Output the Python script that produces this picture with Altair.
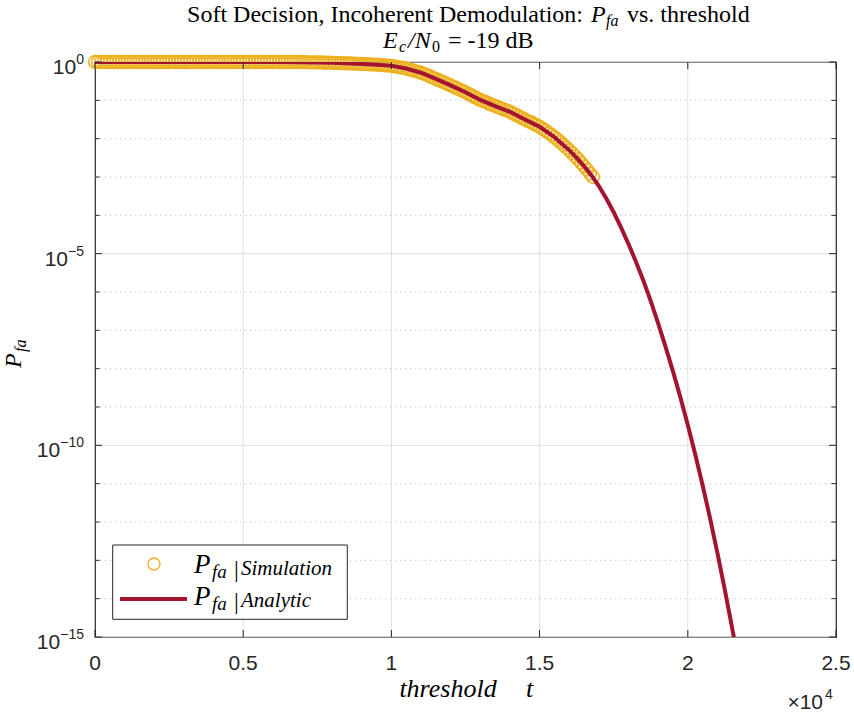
import altair as alt
import pandas as pd

# ---------------- data ----------------
# Analytic curve: threshold t and log10(Pfa)
ana_t = [0, 1000, 2000, 3000, 4000, 5000, 6000, 7000, 8000, 9000, 9500, 10000,
         10500, 11000, 11500, 12000, 12500, 13000, 13500, 14000, 14500, 15000,
         15500, 16000, 16250, 16500, 16750, 17000, 17250, 17500, 17750, 18000,
         18250, 18500, 18750, 19000, 19250, 19500, 19750, 20000, 20250, 20500,
         20750, 21000, 21250, 21500, 21550, 21600]
ana_log10 = [0, 0, 0, 0, 0, 0, 0, -0.005, -0.02, -0.05, -0.07, -0.10,
             -0.17, -0.28, -0.44, -0.61, -0.79, -0.99, -1.15, -1.30, -1.50, -1.69,
             -1.96, -2.30, -2.50, -2.72, -2.96, -3.24, -3.56, -3.92, -4.32, -4.75,
             -5.21, -5.70, -6.24, -6.82, -7.43, -8.07, -8.75, -9.47, -10.23, -11.04,
             -11.90, -12.81, -13.77, -14.78, -14.99, -15.20]

# Simulation points: threshold t and log10(Pfa)
sim_t = [0, 100, 200, 300, 400, 500, 600, 700, 800, 900,
         1000, 1100, 1200, 1300, 1400, 1500, 1600, 1700, 1800, 1900,
         2000, 2100, 2200, 2300, 2400, 2500, 2600, 2700, 2800, 2900,
         3000, 3100, 3200, 3300, 3400, 3500, 3600, 3700, 3800, 3900,
         4000, 4100, 4200, 4300, 4400, 4500, 4600, 4700, 4800, 4900,
         5000, 5100, 5200, 5300, 5400, 5500, 5600, 5700, 5800, 5900,
         6000, 6100, 6200, 6300, 6400, 6500, 6600, 6700, 6800, 6900,
         7000, 7100, 7200, 7300, 7400, 7500, 7600, 7700, 7800, 7900,
         8000, 8100, 8200, 8300, 8400, 8500, 8600, 8700, 8800, 8900,
         9000, 9100, 9200, 9300, 9400, 9500, 9600, 9700, 9800, 9900,
         10000, 10100, 10200, 10300, 10400, 10500, 10600, 10700, 10800, 10900,
         11000, 11100, 11200, 11300, 11400, 11500, 11600, 11700, 11800, 11900,
         12000, 12100, 12200, 12300, 12400, 12500, 12600, 12700, 12800, 12900,
         13000, 13100, 13200, 13300, 13400, 13500, 13600, 13700, 13800, 13900,
         14000, 14100, 14200, 14300, 14400, 14500, 14600, 14700, 14800, 14900,
         15000, 15100, 15200, 15300, 15400, 15500, 15600, 15700, 15800, 15900,
         16000, 16100, 16200, 16300, 16400, 16500, 16600, 16700, 16800]
sim_log10 = [0, 0, 0, 0, 0, 0, 0, 0, 0, 0,
             0, 0, 0, 0, 0, 0, 0, 0, 0, 0,
             0, 0, 0, 0, 0, 0, 0, 0, 0, 0,
             0, 0, 0, 0, 0, 0, 0, 0, 0, 0,
             0, 0, 0, 0, 0, 0, 0, 0, 0, 0,
             0, 0, 0, 0, 0, 0, 0, 0, 0, 0,
             0, 0, 0, 0, 0, 0, 0, 0, 0, 0,
             -0.005, -0.006, -0.007, -0.008, -0.009, -0.010, -0.012, -0.014, -0.016, -0.018,
             -0.020, -0.023, -0.026, -0.029, -0.032, -0.035, -0.038, -0.041, -0.044, -0.047,
             -0.050, -0.054, -0.058, -0.062, -0.066, -0.070, -0.076, -0.082, -0.088, -0.094,
             -0.100, -0.114, -0.128, -0.142, -0.156, -0.170, -0.192, -0.214, -0.236, -0.258,
             -0.280, -0.310, -0.340, -0.375, -0.410, -0.440, -0.474, -0.508, -0.542, -0.576,
             -0.610, -0.646, -0.682, -0.718, -0.754, -0.790, -0.830, -0.870, -0.910, -0.950,
             -0.990, -1.020, -1.050, -1.085, -1.120, -1.150, -1.180, -1.210, -1.240, -1.270,
             -1.300, -1.340, -1.380, -1.420, -1.460, -1.500, -1.540, -1.570, -1.610, -1.650,
             -1.690, -1.740, -1.790, -1.850, -1.900, -1.960, -2.020, -2.090, -2.160, -2.230,
             -2.300, -2.380, -2.460, -2.540, -2.630, -2.720, -2.810, -2.910, -3.000]

# Axes
x_ticks = [0, 5000, 10000, 15000, 20000, 25000]
x_grid = [5000, 10000, 15000, 20000]
y_major_exp = [0, -5, -10, -15]
y_minor_exp = [-1, -2, -3, -4, -6, -7, -8, -9, -11, -12, -13, -14]

# ---------------- styling ----------------
INK = "#262626"
ORANGE = "#EDB120"
RED = "#A2142F"
SERIF = "Liberation Serif"
SANS = "Liberation Sans"
W, H = 741, 575
OX, OY = 95, 62  # plot origin on the canvas

XS = alt.Scale(domain=[0, 25000], nice=False, zero=False)
YS = alt.Scale(type="log", domain=[1e-15, 1], nice=False)

sim_df = pd.DataFrame({"t": sim_t, "e": sim_log10})
ana_df = pd.DataFrame({"t": ana_t, "e": ana_log10})
ymaj_df = pd.DataFrame({"e": y_major_exp})
ymin_df = pd.DataFrame({"e": y_minor_exp})
xt_df = pd.DataFrame({"t": x_ticks})
xg_df = pd.DataFrame({"t": x_grid})


def yP():
    return alt.Y("P:Q", scale=YS, axis=None)


def xT():
    return alt.X("t:Q", scale=XS, axis=None)


pcalc = {"P": "pow(10, datum.e)"}

# grid
grid_major = alt.Chart(ymaj_df).transform_calculate(**pcalc).mark_rule(
    color="#dfdfdf", strokeWidth=1).encode(y=yP(), x=alt.value(0), x2=alt.value(W))
grid_minor = alt.Chart(ymin_df).transform_calculate(**pcalc).mark_rule(
    color="#c4c4c4", strokeWidth=1, strokeDash=[1.3, 3.7]).encode(
    y=yP(), x=alt.value(0), x2=alt.value(W))
grid_x = alt.Chart(xg_df).mark_rule(color="#dfdfdf", strokeWidth=1).encode(
    x=xT(), y=alt.value(0), y2=alt.value(H))

# data marks
sim = alt.Chart(sim_df).transform_calculate(**pcalc).mark_point(
    shape="circle", filled=False, color=ORANGE, size=160, strokeWidth=1.6, opacity=1
).encode(x=xT(), y=yP())
ana = alt.Chart(ana_df).transform_calculate(**pcalc).mark_line(
    color=RED, strokeWidth=4, clip=True).encode(x=xT(), y=yP())

# ticks (inside, all four sides)
tick_b = alt.Chart(xt_df).mark_rule(color=INK, strokeWidth=1).encode(
    x=xT(), y=alt.value(H), y2=alt.value(H - 7))
tick_t = alt.Chart(xt_df).mark_rule(color=INK, strokeWidth=1).encode(
    x=xT(), y=alt.value(0), y2=alt.value(7))
tick_l_maj = alt.Chart(ymaj_df).transform_calculate(**pcalc).mark_rule(
    color=INK, strokeWidth=1).encode(y=yP(), x=alt.value(0), x2=alt.value(7))
tick_r_maj = alt.Chart(ymaj_df).transform_calculate(**pcalc).mark_rule(
    color=INK, strokeWidth=1).encode(y=yP(), x=alt.value(W), x2=alt.value(W - 7))
tick_l_min = alt.Chart(ymin_df).transform_calculate(**pcalc).mark_rule(
    color=INK, strokeWidth=1).encode(y=yP(), x=alt.value(0), x2=alt.value(4.5))
tick_r_min = alt.Chart(ymin_df).transform_calculate(**pcalc).mark_rule(
    color=INK, strokeWidth=1).encode(y=yP(), x=alt.value(W), x2=alt.value(W - 4.5))

# x tick labels
xlab = alt.Chart(xt_df).transform_calculate(lab="datum.t / 10000 + ''").mark_text(
    align="center", baseline="alphabetic", font=SANS, fontSize=21, color=INK).encode(
    x=xT(), y=alt.value(670 - OY), text="lab:N")

# y tick labels: "10" + superscript exponent
ylab_base = alt.Chart(ymaj_df).transform_calculate(
    P="pow(10, datum.e)",
    ex="datum.e == 0 ? '0' : '\u2212' + (-datum.e)",
    lx="-11 - (datum.e < 0 ? 8.2 : 0) - 7.8 * length('' + abs(datum.e))")
ylab_10 = ylab_base.mark_text(align="right", baseline="alphabetic", dy=12,
                              font=SANS, fontSize=21, color=INK).encode(
    y=yP(), x=alt.X("lx:Q", scale=None), text=alt.value("10"))
ylab_ex = ylab_base.mark_text(align="right", baseline="alphabetic", dy=2,
                              font=SANS, fontSize=14, color=INK).encode(
    y=yP(), x=alt.value(-11), text="ex:N")


def txt(s, x, y, size, italic=False, font=SERIF, align="left", angle=None, color="black"):
    kw = dict(align=align, baseline="alphabetic", font=font, fontSize=size, color=color)
    if italic:
        kw["fontStyle"] = "italic"
    if angle is not None:
        kw["angle"] = angle
    return alt.Chart(alt.Data(values=[{}])).mark_text(**kw).encode(
        x=alt.value(x - OX), y=alt.value(y - OY), text=alt.value(s))


annos = [
    # title line 1
    txt("Soft Decision, Incoherent Demodulation:", 583, 22, 24, align="right"),
    txt("P", 591, 22, 24, italic=True),
    txt("fa", 606, 26, 16, italic=True),
    txt("vs. threshold", 627, 22, 24),
    # title line 2
    txt("E", 383, 48, 24, italic=True),
    txt("c", 399, 52, 16, italic=True),
    txt("/N", 408, 48, 24, italic=True),
    txt("0", 432, 52, 16),
    txt("= -19 dB", 448, 48, 24),
    # x axis title
    txt("threshold", 448, 697, 26, italic=True, align="center"),
    txt("t", 526, 697, 26, italic=True),
    # x10^4
    txt("\u00d710", 823, 709, 21, font=SANS, align="right", color=INK),
    txt("4", 825, 699, 14, font=SANS, color=INK),
    # y axis title (rotated)
    txt("P", 21, 368, 24, italic=True, angle=270),
    txt("fa", 26, 352, 16, italic=True, angle=270),
]

# legend
leg_box = alt.Chart(alt.Data(values=[{}])).mark_rect(
    fill="white", stroke=INK, strokeWidth=1).encode(
    x=alt.value(112.7 - OX), x2=alt.value(347.3 - OX),
    y=alt.value(545 - OY), y2=alt.value(619.3 - OY))
leg_circle = alt.Chart(alt.Data(values=[{}])).mark_point(
    shape="circle", filled=False, color=ORANGE, size=144, strokeWidth=1.3, opacity=1).encode(
    x=alt.value(154 - OX), y=alt.value(564 - OY))
leg_line = alt.Chart(alt.Data(values=[{}])).mark_rule(
    color=RED, strokeWidth=4).encode(
    x=alt.value(120 - OX), x2=alt.value(187 - OX), y=alt.value(599 - OY))
leg_txt = [
    txt("P", 194, 573, 27, italic=True),
    txt("fa", 212, 578, 19, italic=True),
    txt("|", 234, 577, 24),
    txt("Simulation", 241, 575, 21, italic=True),
    txt("P", 194, 605, 27, italic=True),
    txt("fa", 212, 610, 19, italic=True),
    txt("|", 234, 609, 24),
    txt("Analytic", 241, 607, 21, italic=True),
]

chart = alt.layer(
    grid_minor, grid_major, grid_x, sim, ana,
    tick_b, tick_t, tick_l_maj, tick_r_maj, tick_l_min, tick_r_min,
    xlab, ylab_10, ylab_ex, leg_box, leg_circle, leg_line, *leg_txt, *annos
).properties(
    width=W, height=H, autosize="none",
    padding={"left": OX, "top": OY, "right": 854 - OX - W, "bottom": 715 - OY - H},
    background="white",
).configure_view(stroke=INK, strokeWidth=1.2)

chart.save("out.html", embed_options={"renderer": "svg", "actions": False})
